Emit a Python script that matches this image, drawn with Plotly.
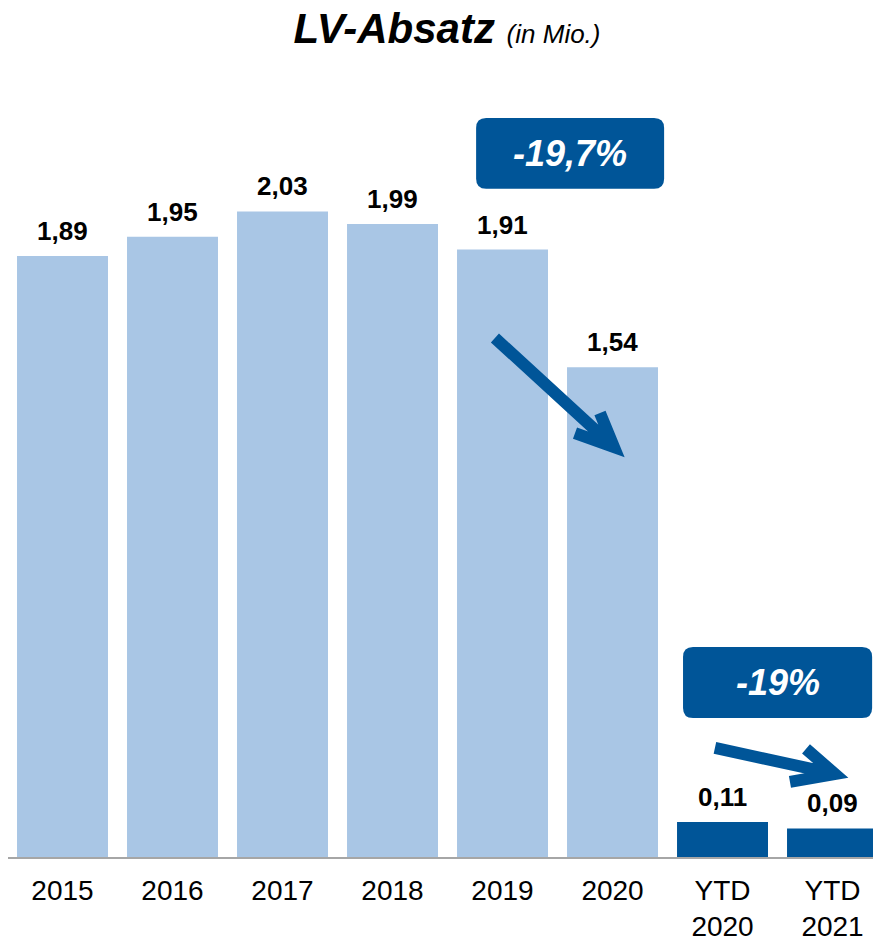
import plotly.graph_objects as go

# data
categories = ["2015", "2016", "2017", "2018", "2019", "2020", "YTD<br>2020", "YTD<br>2021"]
values = [1.89, 1.95, 2.03, 1.99, 1.91, 1.54, 0.11, 0.09]
LIGHT = "#A9C6E5"
DARK = "#005598"
bar_colors = [LIGHT] * 6 + [DARK] * 2

FONT = "Arial, Liberation Sans, sans-serif"


def rounded_box(x0, x1, y0, y1, rx, ry):
    """rounded rectangle path in data units"""
    return (f"M {x0+rx},{y0} L {x1-rx},{y0} Q {x1},{y0} {x1},{y0+ry} "
            f"L {x1},{y1-ry} Q {x1},{y1} {x1-rx},{y1} "
            f"L {x0+rx},{y1} Q {x0},{y1} {x0},{y1-ry} "
            f"L {x0},{y0+ry} Q {x0},{y0} {x0+rx},{y0} Z")


def arrow_path(start, tip, arm1, arm2):
    return (f"M {start[0]},{start[1]} L {tip[0]},{tip[1]} "
            f"M {arm1[0]},{arm1[1]} L {tip[0]},{tip[1]} L {arm2[0]},{arm2[1]}")


fig = go.Figure()
fig.add_trace(go.Bar(
    x=list(range(len(categories))),
    y=values,
    marker=dict(color=bar_colors, line=dict(width=0)),
    hoverinfo="skip",
))

# value labels
for i, v in enumerate(values):
    fig.add_annotation(
        x=i, y=v, text=f"<b>{v:.2f}</b>".replace(".", ","),
        showarrow=False, yanchor="bottom", yshift=8,
        font=dict(family=FONT, size=26, color="black"),
    )

# change boxes
rx, ry = 10 / 110, 10 / 318
fig.add_shape(type="path", path=rounded_box(3.76, 5.469, 2.101, 2.324, rx, ry),
              fillcolor=DARK, line=dict(width=0), layer="above")
fig.add_annotation(x=4.614, y=2.2125, text="<b><i>-19,7%</i></b>", showarrow=False,
                   font=dict(family=FONT, size=36, color="white"))
fig.add_shape(type="path", path=rounded_box(5.641, 7.36, 0.437, 0.660, rx, ry),
              fillcolor=DARK, line=dict(width=0), layer="above")
fig.add_annotation(x=6.50, y=0.5485, text="<b><i>-19%</i></b>", showarrow=False,
                   font=dict(family=FONT, size=36, color="white"))

# arrows
fig.add_shape(type="path",
              path=arrow_path((3.931, 1.632), (5.013, 1.289), (4.886, 1.396), (4.659, 1.333)),
              line=dict(color=DARK, width=12), layer="above")
fig.add_shape(type="path",
              path=arrow_path((5.931, 0.343), (7.022, 0.261), (6.759, 0.340), (6.613, 0.236)),
              line=dict(color=DARK, width=12), layer="above")

fig.update_layout(
    width=873, height=943,
    margin=dict(l=8, r=0, t=60, b=86),
    plot_bgcolor="white", paper_bgcolor="white",
    bargap=0.173,
    showlegend=False,
    title=dict(
        text="<b><i>LV-Absatz</i></b> <i><span style='font-size:26px'>(in Mio.)</span></i>",
        x=447 / 873, xanchor="center", y=1 - 28 / 943, yanchor="middle",
        font=dict(family=FONT, size=42, color="black"),
    ),
    xaxis=dict(
        tickmode="array", tickvals=list(range(len(categories))), ticktext=categories,
        range=[-0.4955, 7.368], showgrid=False, zeroline=False,
        showline=True, linecolor="#A6A6A6", linewidth=2, ticks="",
        tickfont=dict(family=FONT, size=28, color="black"),
        ticklabelstandoff=7, automargin=False,
    ),
    yaxis=dict(range=[0, 2.506], visible=False),
)

# page body has a default 8px margin; drop it so the figure fills the window
fig.write_html("out.html", config={"displayModeBar": False},
               post_script="document.body.style.margin='0';")
